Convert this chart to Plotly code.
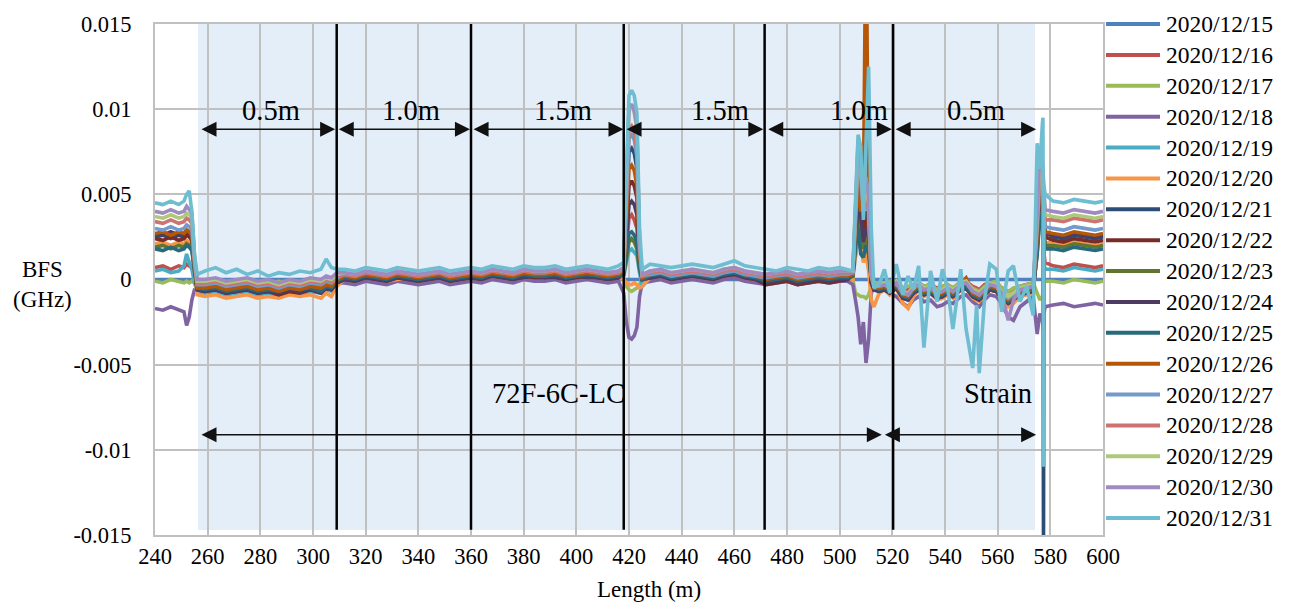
import plotly.graph_objects as go

# Fibre position along the cable (m)
length_m = [
    240, 243, 246, 249, 251, 252, 253, 254, 255, 256,
    259, 263, 267, 271, 275, 279, 283, 287, 291, 295, 299, 303, 305, 307, 309,
    312, 316, 320, 324, 328, 332, 336, 340, 344, 348, 352, 356,
    360, 364, 368, 372, 376, 380, 384, 388, 392, 396, 400, 404, 408, 412, 416,
    418, 419, 420, 421, 422, 423, 424, 425,
    428, 432, 436, 440, 444, 448, 452, 456, 460, 464, 468,
    472, 476, 480, 484, 488, 492, 496, 500, 503,
    505, 506, 507, 508, 509, 510, 511, 512, 513,
    515, 517, 519, 521.5, 524, 526, 528, 530, 532, 534.5, 537, 539, 541, 543,
    546, 548, 550.5, 552, 553, 555, 557, 559.5, 561.5, 564, 566, 568.5, 571, 573.5,
    575, 576, 577, 577.2, 577.4, 577.6, 578,
    581, 585, 589, 593, 597, 600,
]

# BFS change per day, in units of 0.1 MHz (1e-4 GHz)
bfs_1215 = [
    0, 0, 0, 0, 0, 0, 0, 0, 0, 0,
    0, 0, 0, 0, 0, 0, 0, 0, 0, 0, 0, 0, 0, 0, 0,
    0, 0, 0, 0, 0, 0, 0, 0, 0, 0, 0, 0,
    0, 0, 0, 0, 0, 0, 0, 0, 0, 0, 0, 0, 0, 0, 0,
    0, 0, 0, 0, 0, 0, 0, 0,
    0, 0, 0, 0, 0, 0, 0, 0, 0, 0, 0,
    0, 0, 0, 0, 0, 0, 0, 0, 0,
    0, 0, 0, 0, 0, 0, 0, 0, 0,
    0, 0, 0, 0, 0, 0, 0, 0, 0, 0, 0, 0, 0, 0,
    0, 0, 0, 0, 0, 0, 0, 0, 0, 0, 0, 0, 0, 0,
    0, 0, 0, 0, 0, 0, 0,
    0, 0, 0, 0, 0, 0,
]
bfs_1216 = [
    7, 8, 6, 8, 7, 9, 8, 7, 2, -3,
    -4, -3, -5, -4, -3, -5, -4, -6, -4, -5, -3, -4, -2, -3, -1,
    1, 0, 2, 1, 0, 2, 1, 0, 1, 2, 0, 1,
    2, 1, 3, 2, 1, 3, 2, 2, 3, 1, 2, 3, 2, 1, 2,
    3, 20, 36, 38, 35, 30, 8, 0,
    2, 3, 1, 2, 3, 2, 1, 3, 4, 2, 1,
    -1, 0, 1, -1, 0, 1, 0, 1, 2,
    4, 25, 45, 35, 20, 30, 22, 0, -3,
    -3, -2, -4, -1, -5, -6, -3, -2, -4, -3, -5, -4, -3, -5,
    -2, -1, -4, -5, -6, -3, -2, -3, -5, -7, -6, -4, -3, -2,
    20, 45, 40, 35, 30, 15, 10,
    8, 7, 9, 8, 7, 8,
]
bfs_1217 = [
    -1, -2, 0, -1, -2, -1, -2, -1, -2, -3,
    -2, -1, -3, -2, -1, -3, -2, -1, -2, -3, -1, -2, 0, -1, 1,
    2, 1, 3, 2, 1, 3, 2, 1, 2, 3, 1, 2,
    3, 2, 4, 3, 2, 4, 3, 3, 4, 2, 3, 4, 3, 2, 3,
    1, -4, -6, -7, -6, -5, -3, 0,
    3, 4, 2, 3, 4, 3, 2, 4, 5, 3, 2,
    0, 1, 2, 0, 1, 2, 1, 2, 2,
    0, -8, -9, -10, -10, -11, -9, -4, -2,
    -2, -3, -1, -2, -5, -4, -3, -2, -4, -3, -6, -4, -3, -5,
    -1, -2, -5, -6, -7, -4, -2, -1, -5, -7, -5, -4, -3, -2,
    -8, -12, -10, -5, -3, -1, -1,
    -1, -2, 0, -1, -2, -1,
]
bfs_1218 = [
    -17, -18, -16, -18, -19, -27, -22, -12, -6, -5,
    -5, -4, -6, -5, -4, -6, -5, -7, -5, -6, -4, -5, -3, -4, -2,
    -2, -3, -1, -2, -3, -1, -2, -3, -2, -1, -3, -2,
    -1, -2, 0, -1, -2, 0, -1, -1, 0, -2, -1, 0, -1, -2, -1,
    -8, -25, -34, -35, -33, -28, -10, -2,
    -1, 0, -2, -1, 0, -1, -2, 0, 1, -1, -2,
    -3, -2, -1, -3, -2, -1, -2, -1, -1,
    -3, -12, -22, -38, -25, -49, -35, -8, -4,
    -6, -5, -8, -10, -14, -16, -12, -10, -13, -12, -16, -15, -13, -14,
    -10, -9, -13, -15, -16, -12, -9, -10, -14, -22, -24, -16, -13, -10,
    -32, -20, -24, -28, -30, -20, -16,
    -15, -14, -16, -15, -14, -15,
]
bfs_1219 = [
    5, 6, 4, 5, 8, 15, 10, 6, -2, -7,
    -8, -7, -9, -8, -7, -9, -8, -10, -8, -9, -7, -8, -6, -7, -3,
    0, -1, 1, 0, -1, 1, 0, -1, 0, 1, -1, 0,
    1, 0, 2, 1, 0, 2, 1, 1, 2, 0, 1, 2, 1, 0, 1,
    2, 10, 17, 18, 16, 14, 4, -4,
    1, 2, 0, 1, 2, 1, 0, 2, 3, 1, 0,
    -2, -1, 0, -2, -1, 0, -1, 0, 1,
    2, 15, 25, 18, 12, 15, 10, -6, -5,
    -5, -4, -6, -3, -8, -10, -6, -4, -7, -5, -9, -8, -6, -8,
    -4, -3, -8, -9, -10, -7, -4, -5, -9, -12, -10, -7, -6, -9,
    25, 40, 35, 30, 25, 10, 6,
    6, 5, 7, 6, 5, 6,
]
bfs_1220 = [
    21, 22, 20, 22, 21, 23, 22, 20, 5, -9,
    -10, -9, -11, -10, -9, -11, -10, -11, -9, -10, -9, -11, -8, -10, -4,
    0, -1, 1, 0, -1, 0, 1, -1, 0, 1, -1, 0,
    1, 0, 2, 1, 0, 1, 2, 1, 1, 0, 2, 1, 1, 0, 1,
    0, -2, -3, -3, -2, -3, -5, -4,
    1, 2, 0, 1, 2, 1, 0, 2, 3, 1, 0,
    -2, -1, 0, -2, -1, 0, -1, 0, 1,
    0, 15, 30, 20, 10, 15, 5, -12, -16,
    -8, -6, -9, -5, -14, -17, -10, -6, -10, -8, -12, -11, -9, -11,
    -6, -5, -11, -12, -13, -10, -6, -7, -12, -16, -14, -10, -9, -8,
    20, 45, 40, 35, 30, 25, 22,
    21, 20, 22, 21, 20, 21,
]
bfs_1221 = [
    25, 26, 24, 26, 25, 28, 27, 24, 8, -5,
    -6, -5, -7, -6, -5, -7, -6, -8, -6, -7, -5, -6, -4, -5, -1,
    1, 0, 2, 1, 0, 2, 1, 0, 1, 2, 0, 1,
    2, 1, 3, 2, 1, 3, 2, 2, 3, 1, 2, 3, 2, 1, 2,
    5, 40, 75, 77, 74, 65, 15, 1,
    2, 3, 1, 2, 3, 2, 1, 3, 4, 2, 1,
    -1, 0, 1, -1, 0, 1, 0, 1, 1,
    3, 30, 55, 45, 30, 40, 35, 0, -5,
    -6, -5, -7, -4, -10, -11, -7, -5, -8, -7, -10, -9, -7, -9,
    -5, -4, -9, -10, -11, -8, -5, -6, -10, -13, -11, -8, -7, -6,
    25, 50, 60, 55, -160, 35, 28,
    25, 24, 26, 25, 24, 25,
]
bfs_1222 = [
    24, 23, 25, 23, 24, 26, 25, 23, 7, -6,
    -7, -6, -8, -7, -6, -8, -7, -9, -7, -8, -6, -7, -5, -6, -2,
    0, -1, 1, 0, -1, 1, 0, -1, 0, 1, -1, 0,
    1, 0, 2, 1, 0, 2, 1, 1, 2, 0, 1, 2, 1, 0, 1,
    4, 30, 55, 58, 55, 48, 12, 0,
    1, 2, 0, 1, 2, 1, 0, 2, 3, 1, 0,
    -3, -2, -1, -3, -2, -1, -2, -1, 0,
    3, 25, 50, 40, 25, 35, 28, -2, -6,
    -7, -6, -8, -5, -11, -12, -8, -6, -9, -8, -11, -10, -8, -10,
    -6, -5, -10, -11, -12, -9, -6, -7, -11, -14, -12, -9, -8, -7,
    25, 50, 55, 50, 45, 30, 25,
    23, 22, 24, 23, 22, 23,
]
bfs_1223 = [
    19, 20, 18, 20, 19, 21, 20, 18, 5, -5,
    -6, -5, -7, -6, -5, -7, -6, -7, -5, -6, -5, -7, -4, -5, -1,
    1, 0, 2, 1, 0, 2, 1, 0, 1, 2, 0, 1,
    2, 1, 3, 2, 1, 3, 2, 2, 3, 1, 2, 3, 2, 1, 2,
    3, 12, 22, 24, 22, 18, 6, 0,
    2, 3, 1, 2, 3, 2, 1, 3, 4, 2, 1,
    -1, 0, 1, -1, 0, 1, 0, 1, 1,
    2, 18, 35, 25, 18, 25, 18, 0, -4,
    -6, -5, -7, -4, -10, -11, -7, -5, -8, -7, -10, -9, -7, -9,
    -5, -4, -9, -10, -11, -8, -5, -6, -10, -13, -11, -8, -7, -6,
    15, 40, 40, 35, 30, 24, 20,
    20, 19, 21, 20, 19, 20,
]
bfs_1224 = [
    27, 26, 28, 26, 27, 29, 28, 26, 8, -6,
    -7, -6, -8, -7, -6, -8, -7, -8, -6, -7, -6, -8, -5, -6, -2,
    0, -1, 1, 0, -1, 1, 0, -1, 0, 1, -1, 0,
    1, 0, 2, 1, 0, 1, 2, 1, 1, 0, 2, 1, 1, 0, 1,
    4, 25, 44, 46, 44, 38, 10, 0,
    1, 2, 0, 1, 2, 1, 0, 2, 3, 1, 0,
    -2, -1, 0, -2, -1, 0, -1, 0, 0,
    3, 22, 45, 38, 22, 30, 25, -2, -6,
    -7, -6, -8, -5, -11, -12, -8, -6, -9, -8, -11, -10, -8, -10,
    -6, -5, -10, -11, -12, -9, -6, -7, -11, -14, -12, -9, -8, -7,
    20, 48, 50, 45, 40, 30, 27,
    26, 25, 27, 26, 25, 26,
]
bfs_1225 = [
    18, 17, 19, 17, 18, 20, 19, 17, 5, -5,
    -6, -5, -7, -6, -5, -7, -6, -7, -5, -6, -5, -7, -4, -5, -1,
    1, 0, 2, 1, 0, 2, 1, 0, 1, 2, 0, 1,
    2, 1, 3, 2, 1, 3, 2, 2, 3, 1, 2, 3, 2, 1, 2,
    3, 15, 27, 28, 26, 22, 7, 0,
    2, 3, 1, 2, 3, 2, 1, 3, 4, 2, 1,
    -1, 0, 1, -1, 0, 1, 0, 1, 1,
    2, 20, 30, 15, 13, 20, 15, 1, -4,
    -6, -5, -7, -4, -10, -11, -7, -5, -8, -7, -10, -9, -7, -9,
    -5, -4, -9, -10, -11, -8, -5, -6, -10, -13, -11, -8, -7, -6,
    15, 35, 40, 35, 30, 22, 18,
    18, 17, 19, 18, 17, 18,
]
bfs_1226 = [
    27, 28, 26, 28, 27, 29, 28, 26, 8, -5,
    -5, -4, -6, -5, -4, -6, -5, -7, -5, -6, -4, -5, -3, -4, 0,
    2, 1, 3, 2, 1, 3, 2, 1, 2, 3, 1, 2,
    3, 2, 4, 3, 2, 4, 3, 3, 4, 2, 3, 4, 3, 2, 3,
    5, 35, 65, 67, 64, 55, 14, 1,
    3, 4, 2, 3, 4, 3, 2, 4, 5, 3, 2,
    0, 1, 2, 0, 1, 2, 1, 2, 2,
    3, 30, 60, 40, 45, 220, 30, 2, -5,
    -5, -4, -6, -3, -9, -10, -6, -4, -7, -6, -9, -8, -6, -8,
    -2, 1, -8, -9, -10, -7, -4, -5, -9, -12, -10, -7, -6, -5,
    25, 55, 55, 50, 45, 32, 28,
    27, 26, 28, 27, 26, 27,
]
bfs_1227 = [
    30, 29, 31, 29, 30, 32, 31, 29, 10, -3,
    -3, -2, -4, -3, -2, -4, -3, -5, -3, -4, -2, -3, -1, -2, 1,
    3, 2, 4, 3, 2, 4, 3, 2, 3, 4, 2, 3,
    4, 3, 5, 4, 3, 5, 4, 4, 5, 3, 4, 5, 4, 3, 4,
    6, 45, 83, 85, 82, 72, 18, 2,
    3, 4, 2, 3, 4, 3, 2, 4, 5, 3, 2,
    1, 2, 3, 1, 2, 3, 2, 3, 3,
    4, 35, 70, 60, 40, 45, 40, 2, -4,
    -4, -3, -5, -2, -8, -9, -5, -3, -6, -5, -8, -7, -5, -7,
    -3, -2, -7, -8, -9, -6, -3, -4, -8, -11, -9, -6, -5, -4,
    30, 60, 58, 52, 48, 36, 31,
    30, 29, 31, 30, 29, 30,
]
bfs_1228 = [
    34, 33, 35, 33, 34, 36, 35, 33, 12, -2,
    -2, -1, -3, -2, -1, -3, -2, -4, -2, -3, -1, -2, 0, -1, 2,
    3, 2, 4, 3, 2, 4, 3, 2, 3, 4, 2, 3,
    4, 3, 5, 4, 3, 5, 4, 4, 5, 3, 4, 5, 4, 3, 4,
    6, 48, 88, 90, 87, 76, 20, 2,
    4, 5, 3, 4, 5, 4, 3, 5, 6, 4, 3,
    2, 3, 4, 2, 3, 4, 3, 4, 4,
    4, 38, 75, 62, 42, 50, 42, 2, -3,
    -3, -2, -4, -1, -7, -8, -4, -2, -5, -4, -7, -6, -4, -6,
    -2, -1, -6, -7, -8, -5, -2, -3, -7, -10, -8, -5, -4, -3,
    32, 65, 62, 56, 52, 40, 35,
    35, 34, 36, 35, 34, 35,
]
bfs_1229 = [
    37, 36, 38, 36, 37, 39, 38, 36, 13, -1,
    -1, 0, -2, -1, 0, -2, -1, -3, -1, -2, 0, -1, 1, 0, 3,
    4, 3, 5, 4, 3, 5, 4, 3, 4, 5, 3, 4,
    5, 4, 6, 5, 4, 6, 5, 5, 6, 4, 5, 6, 5, 4, 5,
    7, 55, 100, 102, 98, 88, 22, 3,
    5, 6, 4, 5, 6, 5, 4, 6, 7, 5, 4,
    3, 4, 5, 3, 4, 5, 4, 5, 5,
    5, 40, 80, 65, 45, 55, 45, 3, -3,
    -3, -2, -4, -1, -7, -8, -4, -2, -5, -4, -7, -6, -4, -6,
    -2, -1, -6, -7, -8, -5, -2, -3, -7, -10, -8, -5, -4, -3,
    35, 70, 66, 60, 55, 42, 38,
    37, 36, 38, 37, 36, 37,
]
bfs_1230 = [
    40, 39, 41, 39, 40, 43, 41, 39, 14, 0,
    0, 1, -1, 0, 1, -1, 0, -2, 0, -1, 1, 0, 2, 1, 4,
    4, 3, 5, 4, 3, 5, 4, 3, 4, 5, 3, 4,
    5, 4, 6, 5, 4, 6, 5, 5, 6, 4, 5, 6, 5, 4, 5,
    7, 55, 101, 103, 99, 90, 23, 3,
    5, 6, 4, 5, 6, 5, 4, 6, 7, 5, 4,
    3, 4, 5, 3, 4, 5, 4, 5, 5,
    5, 42, 82, 68, 48, 60, 48, 3, -3,
    -4, -3, -5, -2, -8, -9, -5, -3, -6, -5, -8, -7, -5, -7,
    -3, -2, -7, -8, -9, -6, -3, -4, -8, -24, -12, -6, -5, -4,
    38, 75, 70, 64, 58, 45, 41,
    40, 39, 41, 40, 39, 40,
]
bfs_1231 = [
    45, 44, 46, 44, 46, 50, 52, 40, 15, 3,
    5, 7, 4, 6, 3, 5, 2, 4, 3, 5, 4, 6, 12, 7, 6,
    6, 5, 7, 6, 5, 7, 6, 5, 6, 7, 5, 6,
    7, 6, 8, 7, 6, 8, 7, 7, 8, 6, 7, 8, 7, 6, 8,
    10, 60, 108, 111, 108, 98, 30, 6,
    9, 8, 7, 8, 9, 8, 7, 9, 11, 8, 7,
    6, 5, 7, 6, 5, 7, 6, 7, 6,
    5, 45, 85, 78, 35, 80, 125, 30, -5,
    -3, 6, -8, 9, -9, 2, -6, 8, -40, 5, -13, 6, -5, -29,
    6, -29, -52, -15, -55, -12, 9, 6, -19, 5, 8, -13, -4, -21,
    80, 65, 92, 95, -110, 55, 50,
    46, 45, 47, 46, 45, 46,
]

dates = [
    "2020/12/15", "2020/12/16", "2020/12/17", "2020/12/18", "2020/12/19",
    "2020/12/20", "2020/12/21", "2020/12/22", "2020/12/23", "2020/12/24",
    "2020/12/25", "2020/12/26", "2020/12/27", "2020/12/28", "2020/12/29",
    "2020/12/30", "2020/12/31",
]
series = [
    bfs_1215, bfs_1216, bfs_1217, bfs_1218, bfs_1219, bfs_1220, bfs_1221,
    bfs_1222, bfs_1223, bfs_1224, bfs_1225, bfs_1226, bfs_1227, bfs_1228,
    bfs_1229, bfs_1230, bfs_1231,
]
colors = [
    "#4F81BD", "#C0504D", "#9BBB59", "#8064A2", "#4BACC6", "#F79646",
    "#2C4D75", "#772C2A", "#5F7530", "#4D3B62", "#276A7C", "#B65708",
    "#729ACA", "#CD7371", "#AFC97A", "#A08BC0", "#6FBDD1",
]
UNIT_GHZ = 1e-4  # one stored unit = 0.1 MHz

x_ticks = [240, 260, 280, 300, 320, 340, 360, 380, 400, 420, 440, 460,
           480, 500, 520, 540, 560, 580, 600]
y_ticks = [0.015, 0.01, 0.005, 0, -0.005, -0.01, -0.015]
y_tick_text = ["0.015", "0.01", "0.005", "0", "-0.005", "-0.01", "-0.015"]

# Section boundaries (m) and the spacing labels between them
boundaries = [309, 360, 418, 471.5, 520.3]
span_arrows = [(257.1, 308.4), (309.2, 359.6), (360.4, 417.9),
               (418.5, 471.0), (472.3, 519.8), (520.7, 574.6)]
span_labels = ["0.5m", "1.0m", "1.5m", "1.5m", "1.0m", "0.5m"]
span_label_x = [284.0, 337.2, 395.1, 454.6, 507.4, 551.7]
zone_arrows = [(257.1, 516.0), (516.6, 574.6)]
zone_labels = ["72F-6C-LC", "Strain"]
zone_label_x = [393.4, 560.0]

FONT = "Liberation Serif"

# Plot-area geometry in pixels, used to place the hand-built legend
L, R, T, B = 155, 1103, 22, 535
W, H = R - L, B - T
LEG_TOP, LEG_STEP = 22, 31
LEG_LINE_X0, LEG_LINE_X1, LEG_TEXT_X = 1106, 1160, 1164


def px_x(px):
    return (px - L) / W


def px_y(py):
    return (B - py) / H


fig = go.Figure()
for name, vals, col in zip(dates, series, colors):
    fig.add_trace(go.Scatter(
        x=length_m, y=[v * UNIT_GHZ for v in vals], name=name, mode="lines",
        line=dict(color=col, width=3.6), showlegend=False,
    ))

shapes = [dict(type="rect", xref="x", yref="y", x0=256.3, x1=574.2,
               y0=-0.0147, y1=0.015, fillcolor="#E4EEF8", line_width=0,
               layer="below")]
for b in boundaries:
    shapes.append(dict(type="line", xref="x", yref="y", x0=b, x1=b,
                       y0=-0.01469, y1=0.015, line=dict(color="black", width=2.5),
                       layer="above"))

annotations = []
arrow_style = dict(xref="x", yref="y", axref="x", ayref="y", text="",
                   showarrow=True, arrowside="end+start", arrowhead=2,
                   startarrowhead=2, arrowsize=2, startarrowsize=2,
                   arrowwidth=1.5, arrowcolor="#111111", standoff=0,
                   startstandoff=0)
for (a, b) in span_arrows:
    annotations.append(dict(x=b, y=0.00882, ax=a, ay=0.00882, **arrow_style))
for (a, b) in zone_arrows:
    annotations.append(dict(x=b, y=-0.00912, ax=a, ay=-0.00912, **arrow_style))
for lab, lx in zip(span_labels, span_label_x):
    annotations.append(dict(x=lx, y=0.0099, xref="x", yref="y", text=lab,
                            showarrow=False, xanchor="center", yanchor="middle",
                            font=dict(family=FONT, size=28.5, color="black")))
for lab, lx in zip(zone_labels, zone_label_x):
    annotations.append(dict(x=lx, y=-0.0067, xref="x", yref="y", text=lab,
                            showarrow=False, xanchor="center", yanchor="middle",
                            font=dict(family=FONT, size=28.5, color="black")))
annotations.append(dict(x=px_x(42), y=px_y(284), xref="paper", yref="paper",
                        text="BFS<br>(GHz)", showarrow=False,
                        xanchor="center", yanchor="middle",
                        font=dict(family=FONT, size=23, color="black")))
annotations.append(dict(x=px_x(649), y=px_y(590), xref="paper", yref="paper",
                        text="Length (m)", showarrow=False,
                        xanchor="center", yanchor="middle",
                        font=dict(family=FONT, size=23, color="black")))

# Legend: a coloured line sample and the date for each series
for i, (name, col) in enumerate(zip(dates, colors)):
    yy = px_y(LEG_TOP + i * LEG_STEP)
    shapes.append(dict(type="line", xref="paper", yref="paper",
                       x0=px_x(LEG_LINE_X0), x1=px_x(LEG_LINE_X1), y0=yy, y1=yy,
                       line=dict(color=col, width=4)))
    annotations.append(dict(x=px_x(LEG_TEXT_X), y=yy, xref="paper", yref="paper",
                            text=name, showarrow=False, xanchor="left",
                            yanchor="middle",
                            font=dict(family=FONT, size=23.5, color="black")))

fig.update_layout(
    width=1292, height=606,
    margin=dict(l=L, r=1292 - R, t=T, b=606 - B),
    paper_bgcolor="white", plot_bgcolor="white",
    font=dict(family=FONT, size=22.5, color="black"),
    shapes=shapes, annotations=annotations,
    showlegend=False,
)
fig.update_xaxes(range=[240, 600], tickvals=x_ticks,
                 ticktext=[str(t) for t in x_ticks],
                 showgrid=True, gridcolor="#C0C0C0", gridwidth=2,
                 zeroline=False, showline=True, mirror=True,
                 linecolor="#C0C0C0", linewidth=2, ticks="",
                 ticklabelstandoff=0)
fig.update_yaxes(range=[-0.015, 0.015], tickvals=y_ticks, ticktext=y_tick_text,
                 showgrid=True, gridcolor="#C0C0C0", gridwidth=2,
                 zeroline=False, showline=True, mirror=True,
                 linecolor="#C0C0C0", linewidth=2, ticks="",
                 ticklabelstandoff=17)

fig.write_html("out.html")
